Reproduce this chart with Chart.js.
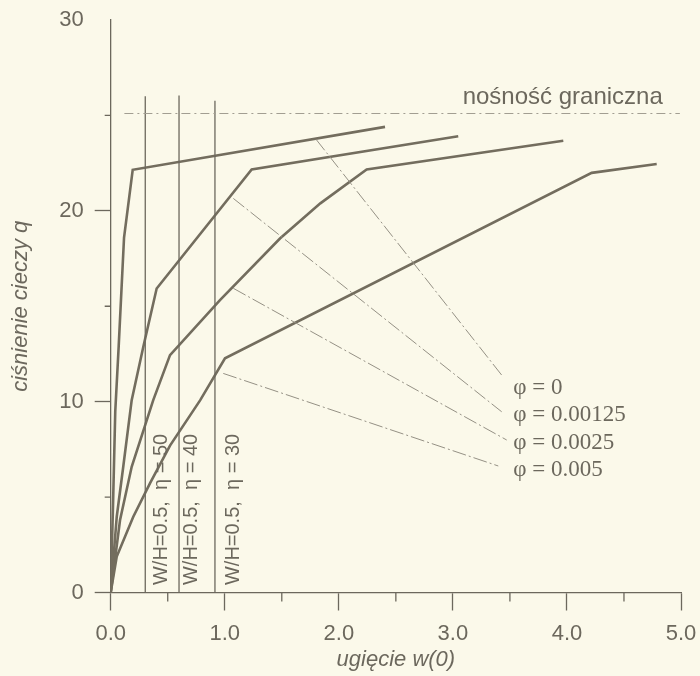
<!DOCTYPE html>
<html lang="pl">
<head>
  <meta charset="utf-8">
  <title>Ugięcie w(0) – ciśnienie cieczy q</title>
  <script src="https://cdn.jsdelivr.net/npm/chart.js"></script>
  <style>
    html, body { margin: 0; padding: 0; background: #fbf9ea; }
    .chart-box { position: relative; width: 700px; height: 676px; }
  </style>
</head>
<body>
<div class="chart-box"><canvas id="chart"></canvas></div>

<script>
  // curves: deflection w(0) and pressure q
  const wA = [0, 0.02, 0.04, 0.07, 0.117, 0.193, 2.405];
  const qA = [0, 4.5, 9.5, 12.9, 18.6, 22.15, 24.4];
  const wB = [0, 0.053, 0.11, 0.184, 0.286, 0.403, 1.236, 3.047];
  const qB = [0, 3.97, 6.59, 10.08, 12.88, 15.93, 22.17, 23.91];
  const wC = [0, 0.082, 0.184, 0.373, 0.52, 0.958, 1.484, 1.838, 2.244, 3.968];
  const qC = [0, 3.8, 6.59, 10.08, 12.44, 15.32, 18.55, 20.39, 22.17, 23.67];
  const wD = [0, 0.053, 0.198, 0.344, 0.52, 0.785, 1.002, 4.217, 4.787];
  const qD = [0, 1.88, 3.97, 5.72, 7.7, 10.08, 12.27, 21.99, 22.45];

  // vertical lines W/H = 0.5, eta = 50 / 40 / 30
  const etaW = [0.303, 0.599, 0.914];
  const etaTop = [26.0, 26.05, 25.77];
  const etaLabels = ['W/H=0.5,  η = 50', 'W/H=0.5,  η = 40', 'W/H=0.5,  η = 30'];

  // limit load line
  const limitQ = 25.1;
  const limitW = [0.12, 4.99];
  const limitLabel = 'nośność graniczna';

  // leader lines from the phi labels to the curves
  const phiLabels = ['φ = 0', 'φ = 0.00125', 'φ = 0.0025', 'φ = 0.005'];
  const leadStartW = [1.80, 1.075, 1.075, 0.987];
  const leadStartQ = [23.75, 20.65, 15.94, 11.48];
  const leadEndW = [3.44, 3.428, 3.472, 3.398];
  const leadEndQ = [11.3, 9.47, 7.99, 6.63];

  const xMinor = [0.5, 1.5, 2.5, 3.5, 4.5];
  const yMinor = [5, 15, 25];

  const ink = '#6c685d';
  const curveInk = '#736d5e';
  const faint = '#959185';
  const sans = "'Liberation Sans', Arial, sans-serif";
  const serif = "'Liberation Serif', 'Times New Roman', serif";

  const pts = (xs, ys) => xs.map((v, i) => ({ x: v, y: ys[i] }));

  const datasets = [];
  for (let i = 0; i < leadStartW.length; i++) {
    datasets.push({
      data: [{ x: leadStartW[i], y: leadStartQ[i] }, { x: leadEndW[i], y: leadEndQ[i] }],
      borderColor: faint, borderWidth: 1, borderDash: [14, 3, 2, 3]
    });
  }
  datasets.push({
    data: limitW.map(v => ({ x: v, y: limitQ })),
    borderColor: '#a29e92', borderWidth: 1, borderDash: [9, 4, 2, 4]
  });
  for (let i = 0; i < etaW.length; i++) {
    datasets.push({
      data: [{ x: etaW[i], y: 0 }, { x: etaW[i], y: etaTop[i] }],
      borderColor: ink, borderWidth: 1.3
    });
  }
  [[wA, qA], [wB, qB], [wC, qC], [wD, qD]].forEach(([xs, ys]) => {
    datasets.push({ data: pts(xs, ys), borderColor: curveInk, borderWidth: 2.6 });
  });

  const extras = {
    id: 'extras',
    beforeDraw(chart) {
      const c = chart.ctx;
      c.save();
      c.fillStyle = '#fbf9ea';
      c.fillRect(0, 0, chart.width, chart.height);
      c.restore();
    },
    afterDatasetsDraw(chart) {
      const c = chart.ctx;
      const { x, y } = chart.scales;
      c.save();
      // minor ticks
      c.strokeStyle = ink;
      c.lineWidth = 1.3;
      c.beginPath();
      xMinor.forEach(v => {
        const px = x.getPixelForValue(v);
        c.moveTo(px, y.bottom);
        c.lineTo(px, y.bottom + 9);
      });
      yMinor.forEach(v => {
        const py = y.getPixelForValue(v);
        c.moveTo(x.left, py);
        c.lineTo(x.left - 6, py);
      });
      c.stroke();

      // limit load label
      c.fillStyle = ink;
      c.font = '24px ' + sans;
      c.textAlign = 'right';
      c.textBaseline = 'middle';
      c.fillText(limitLabel, x.getPixelForValue(4.84), y.getPixelForValue(25.97));

      // phi labels
      c.font = '23px ' + serif;
      c.textAlign = 'left';
      const phiQ = [10.7, 9.3, 7.85, 6.42];
      phiLabels.forEach((t, i) => {
        c.fillText(t, x.getPixelForValue(3.53), y.getPixelForValue(phiQ[i]));
      });

      // rotated labels next to the vertical lines
      c.font = '20px ' + sans;
      const labW = [0.447, 0.71, 1.075];
      etaLabels.forEach((t, i) => {
        c.save();
        c.translate(x.getPixelForValue(labW[i]), y.getPixelForValue(0.39));
        c.rotate(-Math.PI / 2);
        c.textAlign = 'left';
        c.textBaseline = 'middle';
        c.fillText(t, 0, 0);
        c.restore();
      });
      c.restore();
    }
  };

  new Chart(document.getElementById('chart'), {
    type: 'line',
    data: { datasets },
    options: {
      responsive: true,
      maintainAspectRatio: false,
      animation: false,
      events: [],
      layout: { padding: { top: 20, right: 19, left: 0, bottom: 0 } },
      elements: { point: { radius: 0 }, line: { tension: 0, fill: false } },
      plugins: { legend: { display: false }, tooltip: { enabled: false } },
      scales: {
        x: {
          type: 'linear', min: 0, max: 5,
          afterFit: s => { s.height = 83.5; s.paddingRight = 0; s.paddingLeft = 0; },
          border: { display: true, color: ink, width: 1.3 },
          grid: { drawOnChartArea: false, drawTicks: true, tickLength: 18, tickColor: ink, tickWidth: 1.3 },
          ticks: {
            stepSize: 1, color: ink, padding: 10,
            font: { family: sans, size: 22 },
            callback: v => v.toFixed(1)
          },
          title: {
            display: true, text: 'ugięcie w(0)', color: ink,
            font: { family: sans, size: 22, style: 'italic' },
            padding: { top: 0, bottom: 3 }
          }
        },
        y: {
          type: 'linear', min: 0, max: 30,
          afterFit: s => { s.width = 110.7; s.paddingTop = 0; s.paddingBottom = 0; },
          border: { display: true, color: ink, width: 1.3 },
          grid: {
            drawOnChartArea: false, drawTicks: true, tickLength: 16, tickWidth: 1.3,
            tickColor: ctx => (ctx.tick && ctx.tick.value === 30 ? 'rgba(0,0,0,0)' : ink)
          },
          ticks: {
            stepSize: 10, color: ink, padding: 11,
            font: { family: sans, size: 22 }
          },
          title: {
            display: true, text: 'ciśnienie cieczy q', color: ink,
            font: { family: sans, size: 22, style: 'italic' },
            padding: { top: 8, bottom: 0 }
          }
        }
      }
    },
    plugins: [extras]
  });
</script>
</body>
</html>
